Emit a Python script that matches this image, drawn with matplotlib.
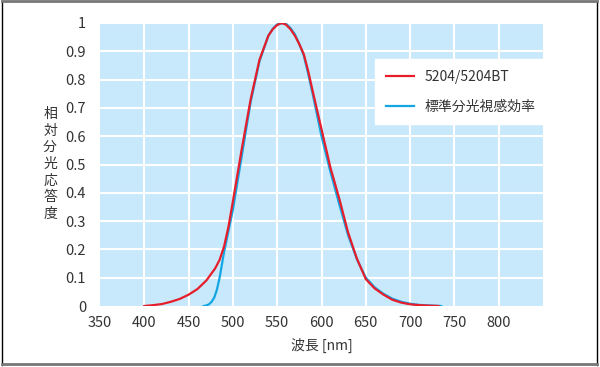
import matplotlib
matplotlib.use("Agg")
import matplotlib.pyplot as plt
from matplotlib.lines import Line2D

plt.rcParams['font.family'] = ['Noto Sans CJK JP', 'DejaVu Sans']

# 5204/5204BT spectral response
red_nm = [400, 410, 420, 430, 440, 450, 460, 470, 480, 485, 490, 495, 500, 510, 520, 530, 540, 545, 550, 555,
          560, 565, 570, 575, 580, 585, 590, 600, 610, 620, 630, 640, 650, 660, 670, 680, 690, 700, 710, 720, 732]
red_val = [0.0, 0.003, 0.007, 0.015, 0.025, 0.040, 0.060, 0.090, 0.133, 0.163, 0.21, 0.28, 0.37, 0.555, 0.73,
           0.87, 0.955, 0.978, 0.993, 1.0, 0.994, 0.978, 0.955, 0.925, 0.89, 0.83, 0.76, 0.625, 0.49, 0.38,
           0.26, 0.167, 0.095, 0.062, 0.04, 0.022, 0.012, 0.006, 0.003, 0.0015, 0.0]

# standard luminous efficiency
blue_nm = [467, 470, 473, 476, 479, 482, 485, 490, 495, 500, 510, 520, 530, 540, 545, 550, 557, 560, 565, 570,
           575, 580, 585, 590, 600, 610, 620, 630, 640, 650, 660, 670, 680, 690, 700, 710, 720, 735]
blue_val = [0.0, 0.002, 0.006, 0.015, 0.03, 0.058, 0.10, 0.19, 0.265, 0.34, 0.53, 0.72, 0.865, 0.955, 0.98,
            0.995, 1.0, 0.997, 0.982, 0.96, 0.925, 0.885, 0.82, 0.75, 0.60, 0.475, 0.36, 0.25, 0.165, 0.10,
            0.066, 0.043, 0.026, 0.015, 0.008, 0.004, 0.002, 0.0]

x_ticks = [350, 400, 450, 500, 550, 600, 650, 700, 750, 800]
y_ticks = [0, 0.1, 0.2, 0.3, 0.4, 0.5, 0.6, 0.7, 0.8, 0.9, 1]
y_labels = ['0', '0.1', '0.2', '0.3', '0.4', '0.5', '0.6', '0.7', '0.8', '0.9', '1']

fig = plt.figure(figsize=(6, 3.67), dpi=100)
ax = fig.add_axes([100/600, 1-306/367, 443/600, 283/367])
ax.set_facecolor('#c8e9fb')

for x in x_ticks[1:]:
    ax.axvline(x, color='white', lw=1.5, zorder=1)
for y in y_ticks[1:]:
    ax.axhline(y, color='white', lw=1.5, zorder=1)

ax.plot(blue_nm, blue_val, color='#12a6e4', lw=1.6, zorder=2)
ax.plot(red_nm, red_val, color='#e61e2c', lw=1.6, zorder=3)

ax.set_xlim(350, 850)
ax.set_ylim(0, 1)
ax.set_xticks(x_ticks)
ax.set_yticks(y_ticks)
ax.set_yticklabels(y_labels)
ax.tick_params(length=0, labelsize=10.5, colors='#333333')
ax.tick_params(axis='x', pad=7)
ax.tick_params(axis='y', pad=10)
for s in ax.spines.values():
    s.set_visible(False)

ax.set_xlabel('波長 [nm]', fontsize=10, color='#333333', labelpad=6)
fig.text(50/600, 1-164/367, '相\n対\n分\n光\n応\n答\n度', fontsize=10, color='#333333',
         ha='center', va='center', linespacing=1.25)

handles = [Line2D([], [], color='#e61e2c', lw=1.6), Line2D([], [], color='#12a6e4', lw=1.6)]
leg = ax.legend(handles, ['5204/5204BT', '標準分光視感効率'], loc='upper left',
                bbox_to_anchor=(275/443, 247/283), borderaxespad=0, fontsize=10, frameon=True,
                fancybox=False, edgecolor='white', facecolor='white', framealpha=1, borderpad=0.8,
                labelspacing=1.1, handlelength=2.0, handletextpad=0.8)
for t in leg.get_texts():
    t.set_color('#333333')

# figure frame
fig.add_artist(Line2D([2/600, 2/600], [2/367, 1-1/367], color='black', lw=1))
fig.add_artist(Line2D([597/600, 597/600], [2/367, 1-1/367], color='black', lw=1))
fig.add_artist(Line2D([2/600, 597/600], [1-1/367, 1-1/367], color='#777777', lw=2))
fig.add_artist(Line2D([2/600, 597/600], [3.5/367, 3.5/367], color='#777777', lw=2))

fig.savefig('out.png', dpi=100)
